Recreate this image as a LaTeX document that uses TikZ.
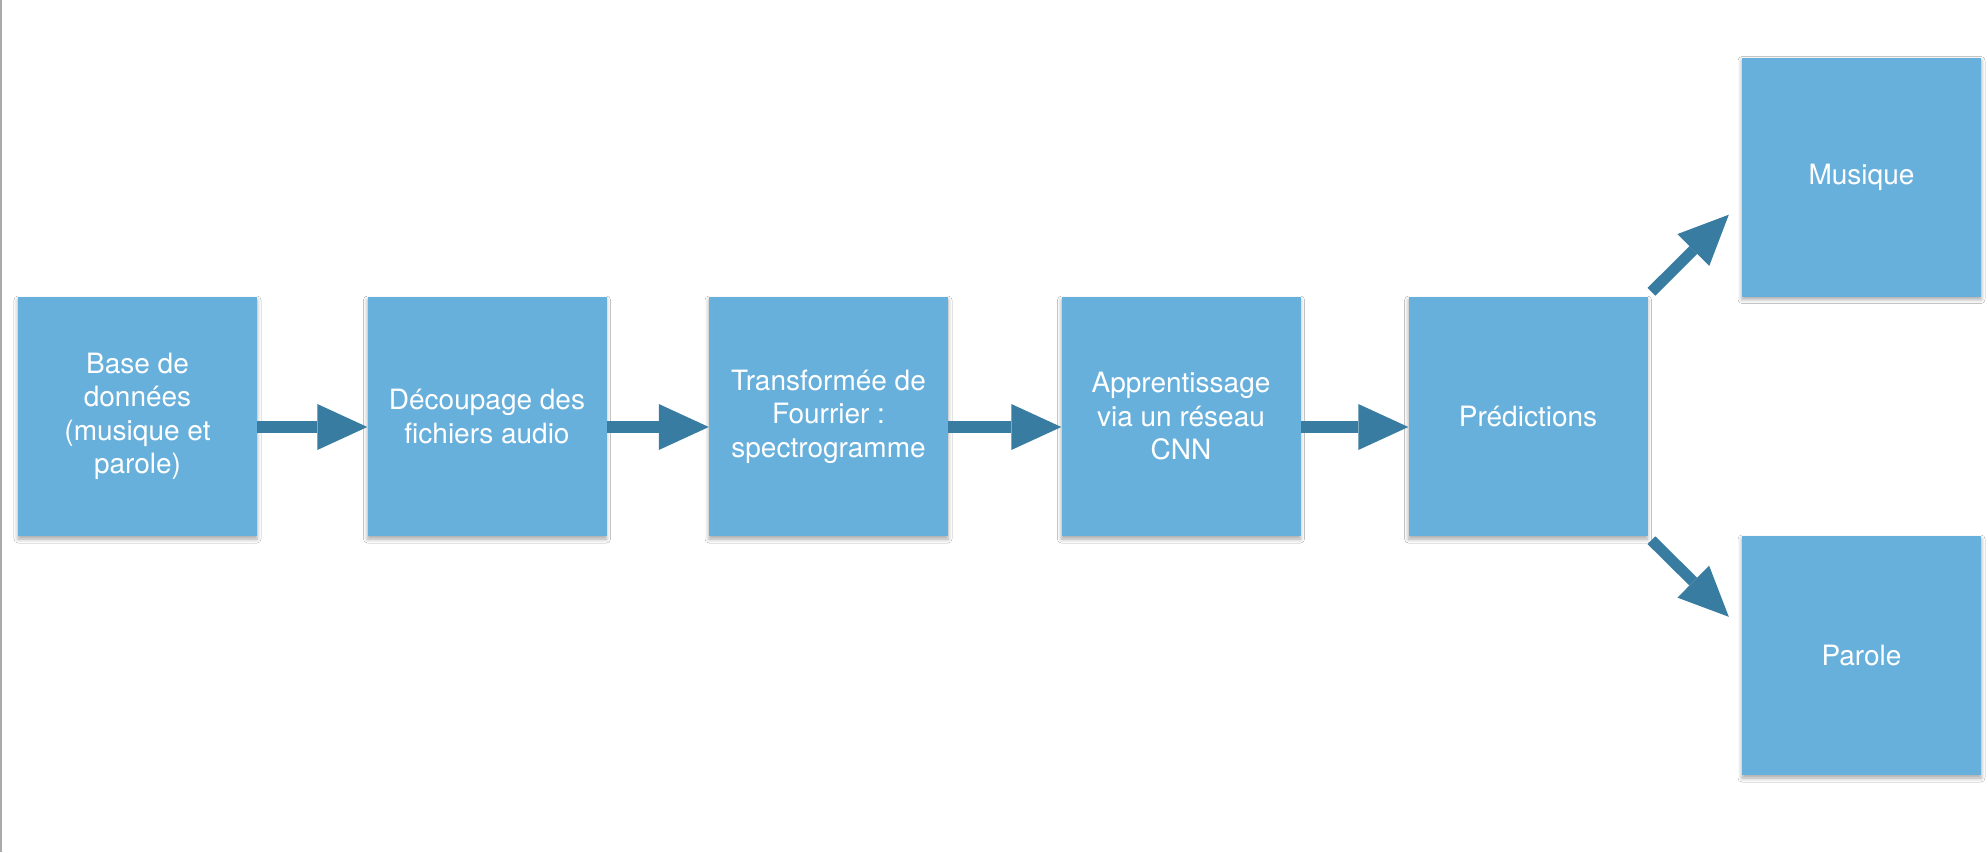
\documentclass[tikz,border=0pt]{standalone}
\usepackage{fontspec}
\setmainfont{TeX Gyre Heros}
\usetikzlibrary{arrows.meta,calc,shadows.blur}
\definecolor{boxblue}{HTML}{68B0DC}
\definecolor{arrowblue}{HTML}{397CA1}
\definecolor{edgegray}{HTML}{AAAAAA}
\begin{document}
\begin{tikzpicture}[x=1pt,y=-1pt,
  stepbox/.style={fill=boxblue, minimum width=239pt, minimum height=239pt,
    inner sep=0pt, text=white, align=center,
    font=\fontsize{28}{33.5}\selectfont,
    blur shadow={shadow xshift=0pt, shadow yshift=-3pt, shadow blur radius=4pt, shadow opacity=35}},
  flow/.style={draw=arrowblue, line width=12pt,
    -{Triangle[length=50pt,width=46pt,line width=0pt]}},
  diagflow/.style={draw=arrowblue, line width=11pt,
    -{Triangle[length=50pt,width=45pt,line width=0pt]}}]
\useasboundingbox (0,0) rectangle (1988,852);
\fill[white] (0,0) rectangle (1988,852);
\fill[edgegray] (0,0) rectangle (2,852);

\node[stepbox] (b1) at (137.5,416.5) {Base de\\données\\(musique et\\parole)};
\node[stepbox] (b2) at (487,416.5) {Découpage des\\fichiers audio};
\node[stepbox] (b3) at (828.5,416.5) {Transformée de\\Fourrier :\\spectrogramme};
\node[stepbox] (b4) at (1181,416.5) {Apprentissage\\via un réseau\\CNN};
\node[stepbox] (b5) at (1528,416.5) {Prédictions};
\node[stepbox] (m) at (1861.5,177) {Musique};
\node[stepbox] (p) at (1861.5,655.5) {Parole};

\draw[flow] ($(b1.east)+(0,10.5)$) -- ($(b2.west)+(0,10.5)$);
\draw[flow] ($(b2.east)+(0,10.5)$) -- ($(b3.west)+(0,10.5)$);
\draw[flow] ($(b3.east)+(0,10.5)$) -- ($(b4.west)+(0,10.5)$);
\draw[flow] ($(b4.east)+(0,10.5)$) -- ($(b5.west)+(0,10.5)$);
\draw[diagflow] ($(b5.north east)+(3.7,-5)$) -- ($(m.south west)+(-13,-82)$);
\draw[diagflow] ($(b5.south east)+(3.7,4)$) -- ($(p.north west)+(-13,81)$);
\end{tikzpicture}
\end{document}
